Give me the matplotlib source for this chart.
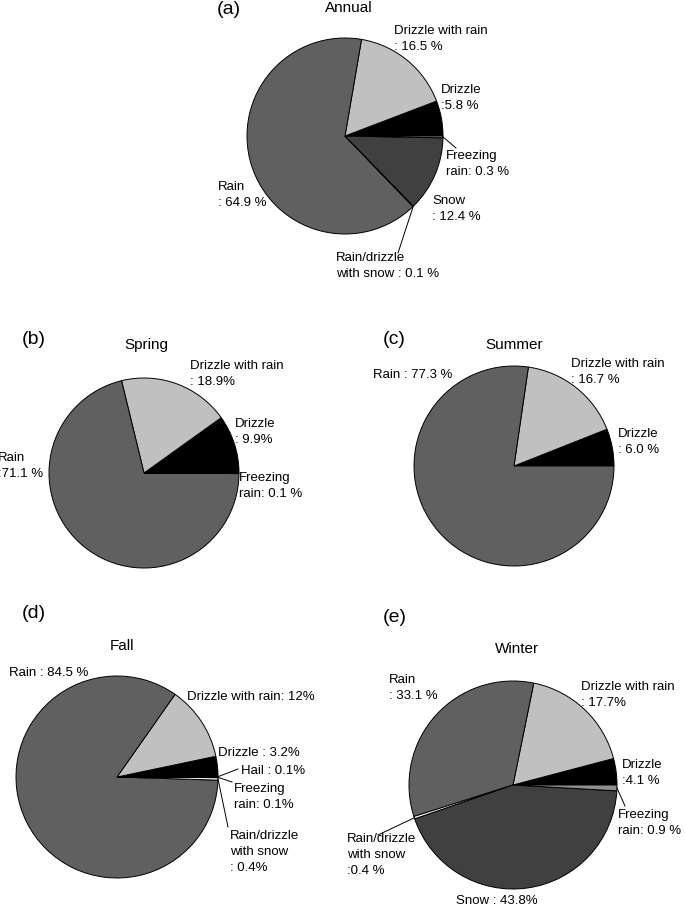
import numpy as np
import matplotlib
matplotlib.use('Agg')
from matplotlib import pyplot as plt

plt.rcParams['font.family'] = ['Liberation Sans', 'DejaVu Sans']

# data (percent), slices go counter-clockwise starting at 3 o'clock
annual_names = ['Drizzle', 'Drizzle with rain', 'Rain', 'Rain/drizzle with snow', 'Snow', 'Freezing rain']
annual_vals = [5.8, 16.5, 64.9, 0.1, 12.4, 0.3]

spring_names = ['Drizzle', 'Drizzle with rain', 'Rain', 'Freezing rain']
spring_vals = [9.9, 18.9, 71.1, 0.1]

summer_names = ['Drizzle', 'Drizzle with rain', 'Rain']
summer_vals = [6.0, 16.7, 77.3]

fall_names = ['Hail', 'Drizzle', 'Drizzle with rain', 'Rain', 'Rain/drizzle with snow', 'Freezing rain']
fall_vals = [0.1, 3.2, 12.0, 84.5, 0.4, 0.1]

winter_names = ['Drizzle', 'Drizzle with rain', 'Rain', 'Rain/drizzle with snow', 'Snow', 'Freezing rain']
winter_vals = [4.1, 17.7, 33.1, 0.4, 43.8, 0.9]

colors = {'Rain': '#606060', 'Drizzle with rain': '#c0c0c0', 'Drizzle': '#000000',
          'Snow': '#404040', 'Freezing rain': '#8e8e8e',
          'Rain/drizzle with snow': '#f4f4f4', 'Hail': '#a0a0a0'}

W, H = 685, 910
fig = plt.figure(figsize=(W / 100, H / 100), dpi=100)
ax = fig.add_axes([0, 0, 1, 1])

FS = 9.5


def Y(y):
    return H - y


def draw_pie(names, vals, cx, cy, r):
    ax.pie(vals, colors=[colors[n] for n in names], center=(cx, Y(cy)), radius=r,
           startangle=0, counterclock=True,
           wedgeprops=dict(edgecolor='black', linewidth=0.7))
    # edge point of each wedge (mid angle) for leader lines
    frac = np.cumsum([0] + list(vals)) / np.sum(vals) * 360
    pts = {}
    for i, n in enumerate(names):
        a = np.deg2rad((frac[i] + frac[i + 1]) / 2)
        pts[n] = (cx + r * np.cos(a), cy - r * np.sin(a))
    return pts


def lab(x, y, s, ha='left'):
    ax.text(x, Y(y), s, fontsize=FS, ha=ha, va='center', linespacing=1.45)


def leader(p, x, y):
    ax.plot([p[0], x], [Y(p[1]), Y(y)], color='black', lw=0.7)


# (a) Annual
pa = draw_pie(annual_names, annual_vals, 345, 136, 98)
ax.text(217, Y(10), '(a)', fontsize=14, va='center')
ax.text(349, Y(8), 'Annual', fontsize=11, ha='center', va='center')
lab(394, 39, 'Drizzle with rain\n: 16.5 %')
lab(441, 98, 'Drizzle\n:5.8 %')
lab(446, 164, 'Freezing\nrain: 0.3 %')
leader(pa['Freezing rain'], 456, 148)
lab(432, 209, 'Snow\n: 12.4 %')
lab(336, 266, 'Rain/drizzle\nwith snow : 0.1 %')
leader(pa['Rain/drizzle with snow'], 398, 253)
lab(218, 195, 'Rain\n: 64.9 %')

# (b) Spring
draw_pie(spring_names, spring_vals, 144, 473, 95)
ax.text(22, Y(340), '(b)', fontsize=14, va='center')
ax.text(146, Y(345), 'Spring', fontsize=11, ha='center', va='center')
lab(190, 374, 'Drizzle with rain\n: 18.9%')
lab(235, 432, 'Drizzle\n: 9.9%')
lab(239, 486, 'Freezing\nrain: 0.1 %')
lab(-2, 466, 'Rain\n:71.1 %')

# (c) Summer
draw_pie(summer_names, summer_vals, 514, 466, 100)
ax.text(383, Y(340), '(c)', fontsize=14, va='center')
ax.text(514, Y(345), 'Summer', fontsize=11, ha='center', va='center')
lab(373, 375, 'Rain : 77.3 %')
lab(571, 372, 'Drizzle with rain\n: 16.7 %')
lab(618, 442, 'Drizzle\n: 6.0 %')

# (d) Fall
pd_ = draw_pie(fall_names, fall_vals, 117, 777, 101)
ax.text(22, Y(613), '(d)', fontsize=14, va='center')
ax.text(122, Y(646), 'Fall', fontsize=11, ha='center', va='center')
lab(9, 673, 'Rain : 84.5 %')
lab(187, 697, 'Drizzle with rain: 12%')
lab(218, 753, 'Drizzle : 3.2%')
lab(241, 771, 'Hail : 0.1%')
leader(pd_['Hail'], 238, 769)
lab(234, 797, 'Freezing\nrain: 0.1%')
leader(pd_['Freezing rain'], 232, 782)
lab(230, 852, 'Rain/drizzle\nwith snow\n: 0.4%')
leader(pd_['Rain/drizzle with snow'], 228, 827)

# (e) Winter
pe = draw_pie(winter_names, winter_vals, 513, 785, 104)
ax.text(383, Y(618), '(e)', fontsize=14, va='center')
ax.text(517, Y(649), 'Winter', fontsize=11, ha='center', va='center')
lab(389, 688, 'Rain\n: 33.1 %')
lab(581, 695, 'Drizzle with rain\n: 17.7%')
lab(622, 773, 'Drizzle\n:4.1 %')
lab(618, 823, 'Freezing\nrain: 0.9 %')
leader(pe['Freezing rain'], 625, 806)
lab(347, 855, 'Rain/drizzle\nwith snow\n:0.4 %')
leader(pe['Rain/drizzle with snow'], 378, 835)
lab(497, 901, 'Snow : 43.8%', ha='center')

ax.set_xlim(0, W)
ax.set_ylim(0, H)
ax.set_aspect('equal')
ax.axis('off')

fig.savefig('out.png', dpi=100)
